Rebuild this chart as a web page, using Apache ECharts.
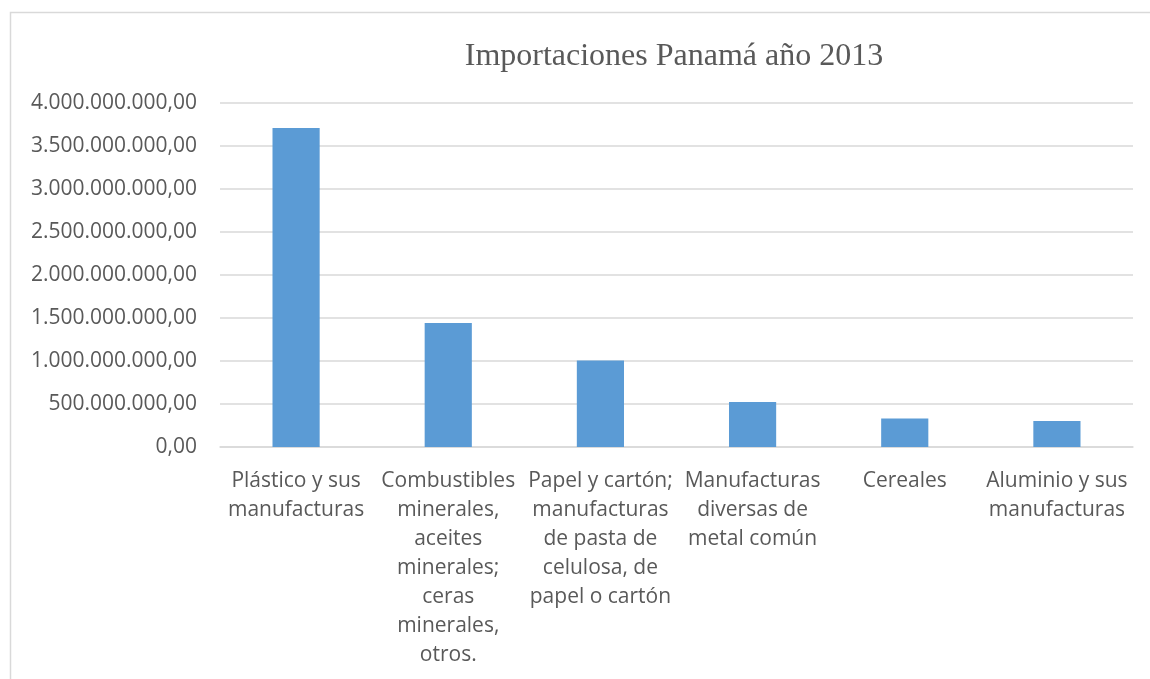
<!DOCTYPE html>
<html>
<head>
<meta charset="utf-8">
<script src="https://cdn.jsdelivr.net/npm/echarts@6/dist/echarts.min.js"></script>
<style>html,body{margin:0;padding:0;background:#fff}#c{width:1150px;height:679px}</style>
</head>
<body>
<div id="c"></div>
<script>
const title = "Importaciones Panamá año 2013";
const categories = [
  "Plástico y sus\nmanufacturas",
  "Combustibles\nminerales,\naceites\nminerales;\nceras\nminerales,\notros.",
  "Papel y cartón;\nmanufacturas\nde pasta de\ncelulosa, de\npapel o cartón",
  "Manufacturas\ndiversas de\nmetal común",
  "Cereales",
  "Aluminio y sus\nmanufacturas"
];
const values = [3710000000, 1442000000, 1005000000, 523000000, 330000000, 302000000];
const yTicks = [0, 500000000, 1000000000, 1500000000, 2000000000, 2500000000, 3000000000, 3500000000, 4000000000];

function fmt(v) {
  const s = Math.round(v).toString().replace(/\B(?=(\d{3})+(?!\d))/g, ".");
  return s + ",00";
}

const chart = echarts.init(document.getElementById('c'));
chart.setOption({
  animation: false,
  backgroundColor: '#fff',
  graphic: [{
    type: 'rect', shape: { x: 10.5, y: 12.5, width: 1300, height: 800 },
    style: { fill: 'none', stroke: '#d9d9d9', lineWidth: 1.5 }, silent: true
  }],
  title: {
    text: title, top: 36, left: 669, textAlign: 'center',
    textStyle: { fontFamily: 'Liberation Serif', fontSize: 32, fontWeight: 'normal', color: '#595959' }
  },
  grid: { left: 220, right: 17, top: 103, bottom: 232, containLabel: false },
  xAxis: {
    type: 'category', data: categories,
    axisLine: { lineStyle: { color: '#d9d9d9', width: 1.5 } },
    axisTick: { show: false },
    axisLabel: { interval: 0, fontFamily: 'Open Sans', fontSize: 21, color: '#595959', lineHeight: 29, margin: 20 }
  },
  yAxis: {
    type: 'value', min: 0, max: yTicks[yTicks.length - 1], interval: yTicks[1] - yTicks[0],
    axisLine: { show: false }, axisTick: { show: false },
    splitLine: { lineStyle: { color: '#d9d9d9', width: 1.5 } },
    axisLabel: { fontFamily: 'Open Sans', fontSize: 21, color: '#595959', margin: 23, formatter: fmt }
  },
  series: [{
    type: 'bar', data: values, barWidth: '31%',
    itemStyle: { color: '#5b9bd5' }
  }]
});
</script>
</body>
</html>
